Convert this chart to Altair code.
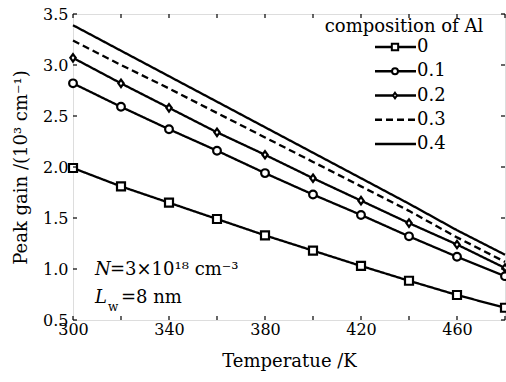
import altair as alt
import pandas as pd

# ---- data ----
temps = [300, 320, 340, 360, 380, 400, 420, 440, 460, 480]
al_labels = ["0", "0.1", "0.2", "0.3", "0.4"]
gain_0 = [1.99, 1.81, 1.65, 1.49, 1.33, 1.18, 1.03, 0.885, 0.745, 0.62]
gain_01 = [2.82, 2.59, 2.37, 2.16, 1.94, 1.73, 1.53, 1.32, 1.12, 0.93]
gain_02 = [3.07, 2.82, 2.58, 2.34, 2.12, 1.89, 1.67, 1.45, 1.24, 1.01]
gain_03 = [3.24, 3.00, 2.77, 2.53, 2.29, 2.05, 1.81, 1.57, 1.31, 1.07]
gain_04 = [3.39, 3.14, 2.89, 2.64, 2.39, 2.14, 1.89, 1.64, 1.38, 1.14]
x_tick_values = [300, 320, 340, 360, 380, 400, 420, 440, 460, 480]
x_label_values = [300, 340, 380, 420, 460]
y_tick_values = [0.5, 1.0, 1.5, 2.0, 2.5, 3.0, 3.5]
marker_series = ["0", "0.1", "0.2"]

series = [gain_0, gain_01, gain_02, gain_03, gain_04]
rows = []
for lab, vals in zip(al_labels, series):
    for t, g in zip(temps, vals):
        rows.append({"T": t, "gain": g, "Al": lab})
df = pd.DataFrame(rows)
pts = df[df["Al"].isin(marker_series)]
leg = pd.DataFrame({"Al": al_labels, "row": list(range(len(al_labels)))})
leg_pts = leg[leg["Al"].isin(marker_series)]
xt = pd.DataFrame({"t": x_tick_values})
yt = pd.DataFrame({"v": y_tick_values})

FONT = "DejaVu Serif"
W, H = 432, 306

xscale = alt.Scale(domain=[300, 480], nice=False, zero=False)
yscale = alt.Scale(domain=[0.5, 3.5], nice=False, zero=False)
dash_scale = alt.Scale(domain=al_labels, range=[[1, 0], [1, 0], [1, 0], [7, 4], [1, 0]])
diamond = "M0,-1L0.72,0L0,1L-0.72,0Z"
shape_scale = alt.Scale(domain=marker_series, range=["square", "circle", diamond])

x_enc = alt.X("T:Q", scale=xscale,
              axis=alt.Axis(values=x_label_values, title="Temperatue /K", grid=False,
                            ticks=False, domain=False, labelFont=FONT, labelFontSize=16,
                            labelColor="black", labelPadding=1, titleFont=FONT,
                            titleFontSize=18, titleFontWeight="normal", titleColor="black",
                            titlePadding=15, labelFlush=False))
y_enc = alt.Y("gain:Q", scale=yscale,
              axis=alt.Axis(values=y_tick_values, format=".1f",
                            title="Peak gain /(10³ cm⁻¹)", grid=False, ticks=False,
                            domain=False, labelFont=FONT, labelFontSize=16,
                            labelColor="black", labelPadding=5, titleFont=FONT,
                            titleFontSize=18, titleFontWeight="normal", titleColor="black",
                            titlePadding=12, labelFlush=False))

lines = alt.Chart(df).mark_line(color="black", strokeWidth=2.3).encode(
    x=x_enc, y=y_enc,
    strokeDash=alt.StrokeDash("Al:N", scale=dash_scale, legend=None),
    detail="Al:N",
)
points = alt.Chart(pts).mark_point(filled=False, color="black", fill="white",
                                   fillOpacity=1, strokeWidth=2.2, opacity=1).encode(
    x="T:Q", y="gain:Q",
    shape=alt.Shape("Al:N", scale=shape_scale, legend=None),
    size=alt.Size("Al:N", scale=alt.Scale(domain=marker_series, range=[64, 55, 144]), legend=None),
)
bt = alt.Chart(xt).mark_rule(color="black", strokeWidth=1.2).encode(
    x=alt.X("t:Q"), y=alt.value(H), y2=alt.value(H - 4))
tt = alt.Chart(xt).mark_rule(color="black", strokeWidth=1.2).encode(
    x=alt.X("t:Q"), y=alt.value(0), y2=alt.value(4))
lt = alt.Chart(yt).mark_rule(color="black", strokeWidth=1.2).encode(
    y=alt.Y("v:Q"), x=alt.value(0), x2=alt.value(4))
rt = alt.Chart(yt).mark_rule(color="black", strokeWidth=1.2).encode(
    y=alt.Y("v:Q"), x=alt.value(W), x2=alt.value(W - 4))

one = pd.DataFrame({"k": [0]})
def txt(s, x, y, size=18, style="normal"):
    return alt.Chart(one).mark_text(font=FONT, fontSize=size, fontStyle=style,
                                    align="left", baseline="alphabetic", color="black").encode(
        x=alt.value(x), y=alt.value(y), text=alt.value(s))

ann = [
    txt("N", 22, 261, style="italic"),
    txt("=3×10¹⁸ cm⁻³", 37, 261),
    txt("L", 22, 289, style="italic"),
    txt("w", 35, 297, size=12),
    txt("=8 nm", 48, 289),
]

data_layer = alt.layer(lines, points, bt, tt, lt, rt, *ann)

# ---- legend ----
ly = alt.Y("row:Q", scale=alt.Scale(domain=[0, 4], range=[33, 130]), axis=None)
leg_rules = alt.Chart(leg).mark_rule(color="black", strokeWidth=2.3).encode(
    x=alt.value(302), x2=alt.value(343), y=ly,
    strokeDash=alt.StrokeDash("Al:N", scale=dash_scale, legend=None))
leg_marks = alt.Chart(leg_pts).mark_point(filled=False, color="black", fill="white",
                                          fillOpacity=1, strokeWidth=2, opacity=1).encode(
    x=alt.value(322), y="row:Q",
    shape=alt.Shape("Al:N", scale=shape_scale, legend=None),
    size=alt.Size("Al:N", scale=alt.Scale(domain=marker_series, range=[40, 30, 81]), legend=None))
leg_text = alt.Chart(leg).mark_text(font=FONT, fontSize=18, align="left",
                                    baseline="middle", color="black").encode(
    x=alt.value(344), y="row:Q", text="Al:N")
leg_title = alt.Chart(one).mark_text(font=FONT, fontSize=18, align="center",
                                     baseline="alphabetic", color="black").encode(
    x=alt.value(331), y=alt.value(18), text=alt.value("composition of Al"))
legend_layer = alt.layer(leg_rules, leg_marks, leg_text, leg_title)

chart = alt.layer(data_layer, legend_layer).resolve_scale(
    y="independent", size="independent"
).properties(
    width=W, height=H,
    autosize=alt.AutoSizeParams(type="none"),
    padding={"left": 73, "top": 14, "right": 1, "bottom": 62},
).configure_view(stroke="black", strokeWidth=1.5).configure(background="white")

chart.save("out.html", embed_options={"renderer": "svg", "actions": False})
